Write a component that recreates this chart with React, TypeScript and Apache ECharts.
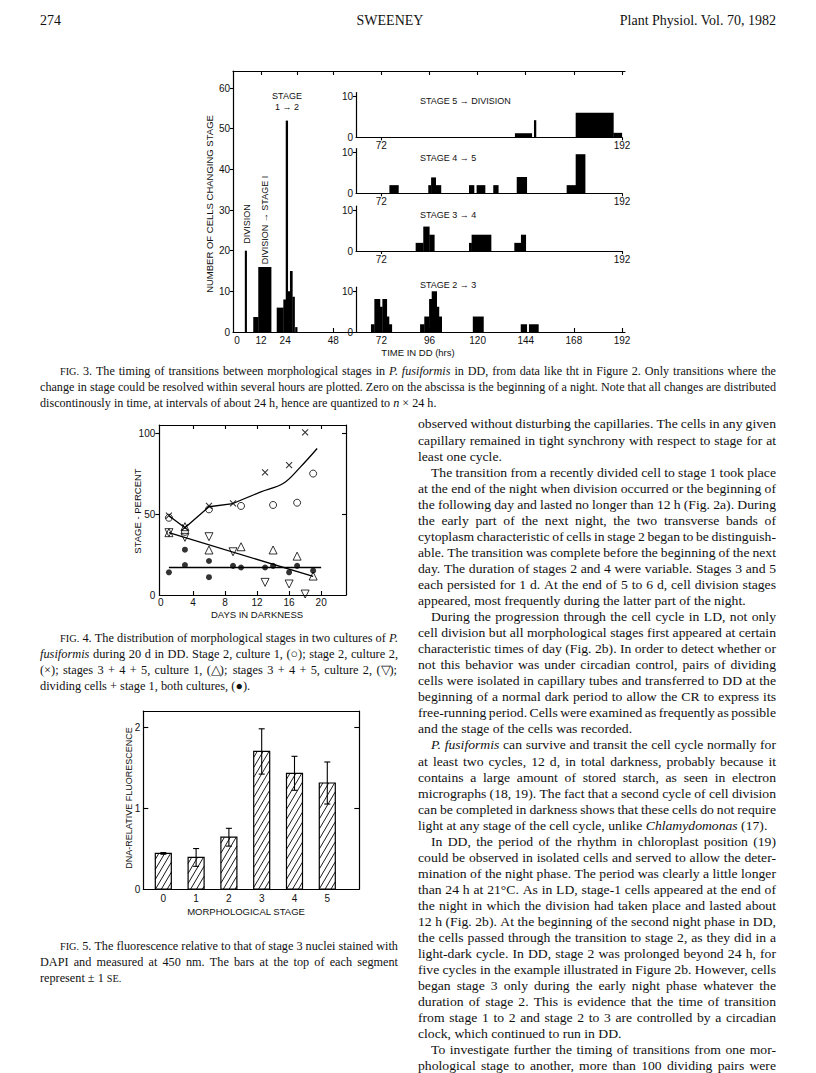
import React, { useEffect, useRef } from 'react';
import * as echarts from 'echarts';

// ---------------- Figure 3 data: [startHour, endHour, cells] ----------------
const divisionBars = [[3.9, 4.8, 20]];
const divToStage1Bars = [[8.1, 10.6, 3.7], [10.6, 17.0, 16]];
const stage1to2Bars = [[19.8, 23.1, 6], [23.1, 24.3, 8], [24.3, 25.3, 52], [25.3, 26.4, 10], [26.4, 27.6, 15], [27.6, 28.7, 8.7], [29.0, 30.0, 1.2]];
const stage5toDivBars = [[138.6, 147, 1], [148.1, 149.1, 4.2], [168.9, 187.7, 6], [187.7, 191.9, 1.1]];
const stage4to5Bars = [[76, 80.5, 2], [95.4, 96.8, 2], [96.8, 99.1, 3.9], [99.1, 101.7, 2], [115.7, 118.2, 2], [119.5, 123.7, 2], [127.8, 130.3, 2], [139.5, 144.5, 4], [164.4, 168.9, 2], [168.9, 173.6, 9.6]];
const stage3to4Bars = [[89.1, 92.9, 2], [92.9, 95.9, 6], [95.9, 98.4, 4], [115.7, 117, 2], [117, 126.7, 4], [138.3, 141.6, 2], [141.6, 144, 4]];
const stage2to3Bars = [[66.8, 68.5, 1.9], [68.5, 71.3, 8.1], [71.3, 72.5, 6.2], [72.5, 74.7, 8.1], [74.7, 75.8, 3.8], [75.8, 77.2, 1.9], [91.3, 93.4, 1.9], [93.4, 95.8, 3.8], [95.8, 97.1, 8.1], [97.1, 99.6, 10], [99.6, 100.7, 6.2], [100.7, 102.1, 3.8], [117.6, 122.9, 3.8], [141.5, 144.5, 1.9], [145.6, 150.3, 1.9]];
const fig3XLabels = [0, 12, 24, 48, 72, 96, 120, 144, 168, 192];
const fig3XTicks = [12, 24, 48, 72, 96, 120, 144, 168, 192];
const fig3TopTicks = [12, 30, 48, 72, 96, 120, 144, 168, 192];
const fig3YLabels = [0, 10, 20, 30, 40, 50, 60];
const insetXLabels = [72, 192];
const insetYLabels = [0, 10];

// ---------------- Figure 4 data: [day, percent] ----------------
const stage2Culture1 = [[1, 47.7], [3, 39], [6, 52.9], [10, 55], [14, 55.6], [17, 57], [19, 75]];
const stage2Culture2 = [[1, 49], [3, 41.8], [6, 55], [9, 56.6], [13, 75.7], [16, 80.2], [18, 100.4]];
const stages345Culture1 = [[1, 38.5], [3, 42.2], [6, 27.8], [10, 29.8], [14, 27.8], [17, 24], [19, 11.7]];
const stages345Culture2 = [[1, 38.5], [3, 35.6], [6, 36], [9, 26.7], [13, 7.8], [16, 6.8], [18, 0.6]];
const dividingStage1 = [[1, 14], [3, 28], [3, 18.5], [6, 21], [6, 11], [9, 18], [10, 17], [13, 17], [14, 18], [16, 14], [17, 18], [19, 15]];
const stage2TrendA = [[1, 49], [3, 41.5], [6, 54.5], [9, 56.5]];
const stage2TrendB = [[9, 56.5], [12.4, 63.5], [15.3, 69], [17.4, 79], [19.5, 90.5]];
const stages345Trend = [[1, 38.5], [19, 11.5]];
const dividingTrend = [[1, 17], [20, 17]];
const fig4XLabels = [0, 4, 8, 12, 16, 20];
const fig4XTicks = [4, 8, 12, 16, 20];
const fig4YLabels = [0, 50, 100];

// ---------------- Figure 5 data ----------------
const stageLabels = ['0', '1', '2', '3', '4', '5'];
const fluorescence = [0.44, 0.39, 0.64, 1.70, 1.43, 1.31];
const fluorescenceSE = [0.01, 0.11, 0.11, 0.28, 0.21, 0.26];
const fig5YLabels = [0, 1, 2];

// ---------------- Page text ----------------
const headerLeft = '274';
const headerCenter = 'SWEENEY';
const headerRight = 'Plant Physiol. Vol. 70, 1982';

const fig3Caption = [
  '>^FIG. 3. The timing of transitions between morphological stages in _P. _fusiformis in DD, from data like tht in Figure 2. Only transitions where the',
  'change in stage could be resolved within several hours are plotted. Zero on the abscissa is the beginning of a night. Note that all changes are distributed',
  'discontinously in time, at intervals of about 24 h, hence are quantized to _n × 24 h.|',
];
const fig4Caption = [
  '>^FIG. 4. The distribution of morphological stages in two cultures of _P.',
  '_fusiformis during 20 d in DD. Stage 2, culture 1, (○); stage 2, culture 2,',
  '(×); stages 3 + 4 + 5, culture 1, (△); stages 3 + 4 + 5, culture 2, (▽);',
  'dividing cells + stage 1, both cultures, (●).|',
];
const fig5Caption = [
  '>^FIG. 5. The fluorescence relative to that of stage 3 nuclei stained with',
  'DAPI and measured at 450 nm. The bars at the top of each segment',
  'represent ± 1 ^SE.|',
];
const bodyText = [
  'observed without disturbing the capillaries. The cells in any given',
  'capillary remained in tight synchrony with respect to stage for at',
  'least one cycle.|',
  '>The transition from a recently divided cell to stage 1 took place',
  'at the end of the night when division occurred or the beginning of',
  'the following day and lasted no longer than 12 h (Fig. 2a). During',
  'the early part of the next night, the two transverse bands of',
  'cytoplasm characteristic of cells in stage 2 began to be distinguish-',
  'able. The transition was complete before the beginning of the next',
  'day. The duration of stages 2 and 4 were variable. Stages 3 and 5',
  'each persisted for 1 d. At the end of 5 to 6 d, cell division stages',
  'appeared, most frequently during the latter part of the night.|',
  '>During the progression through the cell cycle in LD, not only',
  'cell division but all morphological stages first appeared at certain',
  'characteristic times of day (Fig. 2b). In order to detect whether or',
  'not this behavior was under circadian control, pairs of dividing',
  'cells were isolated in capillary tubes and transferred to DD at the',
  'beginning of a normal dark period to allow the CR to express its',
  'free-running period. Cells were examined as frequently as possible',
  'and the stage of the cells was recorded.|',
  '>_P. _fusiformis can survive and transit the cell cycle normally for',
  'at least two cycles, 12 d, in total darkness, probably because it',
  'contains a large amount of stored starch, as seen in electron',
  'micrographs (18, 19). The fact that a second cycle of cell division',
  'can be completed in darkness shows that these cells do not require',
  'light at any stage of the cell cycle, unlike _Chlamydomonas (17).|',
  '>In DD, the period of the rhythm in chloroplast position (19)',
  'could be observed in isolated cells and served to allow the deter-',
  'mination of the night phase. The period was clearly a little longer',
  'than 24 h at 21°C. As in LD, stage-1 cells appeared at the end of',
  'the night in which the division had taken place and lasted about',
  '12 h (Fig. 2b). At the beginning of the second night phase in DD,',
  'the cells passed through the transition to stage 2, as they did in a',
  'light-dark cycle. In DD, stage 2 was prolonged beyond 24 h, for',
  'five cycles in the example illustrated in Figure 2b. However, cells',
  'began stage 3 only during the early night phase whatever the',
  'duration of stage 2. This is evidence that the time of transition',
  'from stage 1 to 2 and stage 2 to 3 are controlled by a circadian',
  'clock, which continued to run in DD.|',
  '>To investigate further the timing of transitions from one mor-',
  'phological stage to another, more than 100 dividing pairs were',
];

const SANS = '"Liberation Sans", Arial, sans-serif';
const SERIF = '"Liberation Serif", "Times New Roman", serif';
const INK = '#111';

// ---------------- text layout helpers ----------------
let measureCtx: CanvasRenderingContext2D | null = null;
function measure(t: string, size: number, italic: boolean) {
  if (!measureCtx) measureCtx = document.createElement('canvas').getContext('2d');
  measureCtx!.font = `${italic ? 'italic ' : ''}${size}px ${SERIF}`;
  return measureCtx!.measureText(t).width;
}

type Block = { x: number; y: number; lh: number; width: number; size: number; indent: number; lines: string[] };

function layoutBlock(b: Block) {
  const parsed = b.lines.map((raw) => {
    let s = raw;
    const indent = s.startsWith('>');
    if (indent) s = s.slice(1);
    const last = s.endsWith('|');
    if (last) s = s.slice(0, -1);
    const toks = s.split(' ').filter(Boolean).map((w) => {
      let italic = false;
      let small = false;
      if (w.startsWith('_')) { italic = true; w = w.slice(1); }
      if (w.startsWith('^')) { small = true; w = w.slice(1); }
      return { t: w, italic, small };
    });
    const ws = toks.map((k) => measure(k.t, k.small ? b.size * 0.84 : b.size, k.italic));
    const sp = measure(' ', b.size, false);
    const avail = b.width - (indent ? b.indent : 0);
    const natural = ws.reduce((a, c) => a + c, 0) + sp * (toks.length - 1);
    return { indent, last, toks, ws, sp, avail, natural };
  });
  const ratios = parsed.filter((p) => !p.last).map((p) => p.avail / p.natural).sort((a, c) => a - c);
  let K = ratios.length ? ratios[Math.floor((ratios.length - 1) * 0.3)] : 1;
  K = Math.min(1.1, Math.max(0.7, K));
  const els: any[] = [];
  parsed.forEach((p, li) => {
    const sumW = p.ws.reduce((a, c) => a + c, 0);
    const n = p.toks.length;
    let scale = K;
    let gap = p.sp * K;
    if (!p.last && n > 1) {
      const g = (p.avail - K * sumW) / (n - 1);
      if (g >= p.sp * K * 0.7) gap = g;
      else { scale = p.avail / (sumW + (n - 1) * p.sp * 0.7); gap = p.sp * 0.7 * scale; }
    } else if (K * (sumW + (n - 1) * p.sp) > p.avail) {
      scale = p.avail / (sumW + (n - 1) * p.sp);
      gap = p.sp * scale;
    }
    let cx = b.x + (p.indent ? b.indent : 0);
    const y = b.y + li * b.lh;
    p.toks.forEach((k, i) => {
      els.push({
        type: 'text', x: cx, y, scaleX: scale, silent: true,
        style: {
          text: k.t, fontFamily: SERIF, fontSize: k.small ? b.size * 0.84 : b.size,
          fontStyle: k.italic ? 'italic' : 'normal', fill: INK, align: 'left', verticalAlign: 'middle',
        },
      });
      cx += p.ws[i] * scale + gap;
    });
  });
  return els;
}

function label(text: string, x: number, y: number, size: number, opts: any = {}) {
  return {
    type: 'text', x, y, rotation: opts.rotation || 0, silent: true,
    style: { text, fontFamily: opts.family || SANS, fontSize: size, fill: INK, align: opts.align || 'center', verticalAlign: 'middle' },
  };
}

// ---------------- series renderers ----------------
function barRender(_p: any, api: any) {
  const top = api.coord([api.value(0), api.value(2)]);
  const bot = api.coord([api.value(1), 0]);
  return {
    type: 'rect',
    shape: { x: top[0], y: top[1], width: Math.max(1, bot[0] - top[0] + 0.3), height: bot[1] - top[1] },
    style: { fill: '#000' },
  };
}

function fluorRender(_p: any, api: any) {
  const s = api.value(0);
  const m = api.value(1);
  const se = api.value(2);
  const top = api.coord([s, m]);
  const base = api.coord([s, 0]);
  const half = 8;
  const x0 = top[0] - half, x1 = top[0] + half, y0 = top[1], y1 = base[1];
  const children: any[] = [
    { type: 'rect', shape: { x: x0, y: y0, width: x1 - x0, height: y1 - y0 }, style: { fill: '#fff', stroke: '#000', lineWidth: 1.2 } },
  ];
  const k = 1.7;
  const step = 10;
  for (let c = k * x0 + y0 + step * 0.6; c < k * x1 + y1; c += step) {
    const xa = Math.max(x0, (c - y1) / k);
    const xb = Math.min(x1, (c - y0) / k);
    if (xb > xa + 0.5) {
      children.push({ type: 'line', shape: { x1: xa, y1: c - k * xa, x2: xb, y2: c - k * xb }, style: { stroke: '#000', lineWidth: 0.9 } });
    }
  }
  const eT = api.coord([s, m + se]);
  const eB = api.coord([s, m - se]);
  const cap = 3;
  children.push({ type: 'line', shape: { x1: eT[0], y1: eT[1], x2: eB[0], y2: eB[1] }, style: { stroke: '#000', lineWidth: 1.1 } });
  children.push({ type: 'line', shape: { x1: eT[0] - cap, y1: eT[1], x2: eT[0] + cap, y2: eT[1] }, style: { stroke: '#000', lineWidth: 1.1 } });
  children.push({ type: 'line', shape: { x1: eB[0] - cap, y1: eB[1], x2: eB[0] + cap, y2: eB[1] }, style: { stroke: '#000', lineWidth: 1.1 } });
  return { type: 'group', children };
}

const axisLine = { show: true, onZero: false, lineStyle: { color: '#000', width: 1.2 } };
const labelStyle = { color: INK, fontFamily: SANS, fontSize: 10 };

function valAxis(extra: any) {
  return {
    type: 'value', splitLine: { show: false }, ...extra,
    axisLine: { ...axisLine, ...(extra.axisLine || {}) },
    axisLabel: { ...labelStyle, ...(extra.axisLabel || {}) },
    axisTick: { lineStyle: { color: '#000', width: 1.1 }, ...(extra.axisTick || {}) },
  };
}

function buildOption() {
  const insetGrid = (top: number) => ({ left: 356, top, width: 266, height: 44.8 });
  const grids = [
    { left: 233, top: 71, width: 392, height: 261 }, // 0 fig3 main
    insetGrid(92.5), // 1
    insetGrid(148.5), // 2
    insetGrid(206.2), // 3
    insetGrid(287.2), // 4
    { left: 159.3, top: 425, width: 186.7, height: 170 }, // 5 fig4
    { left: 143.3, top: 711, width: 216, height: 178 }, // 6 fig5
  ].map((g) => ({ ...g, outerBoundsMode: 'none', containLabel: false }));

  const insetX = (gi: number, hidden = false) => valAxis({
    gridIndex: gi, min: 59.35, max: 192, position: 'bottom',
    axisLine: { show: !hidden },
    axisTick: { show: !hidden, length: 3, customValues: insetXLabels },
    axisLabel: { show: !hidden, margin: 3, customValues: insetXLabels },
  });
  const insetY = (gi: number) => valAxis({
    gridIndex: gi, min: 0, max: 11, position: 'left',
    axisTick: { show: true, length: 3, customValues: [10] },
    axisLabel: { margin: 3, customValues: insetYLabels },
  });

  const xAxis = [
    valAxis({ gridIndex: 0, min: -2, max: 193.5, position: 'bottom', axisTick: { show: true, inside: true, length: 4, customValues: fig3XTicks }, axisLabel: { margin: 3, customValues: fig3XLabels } }),
    valAxis({ gridIndex: 0, min: -2, max: 193.5, position: 'top', axisTick: { show: true, inside: true, length: 4, customValues: fig3TopTicks }, axisLabel: { show: false } }),
    insetX(1), insetX(2), insetX(3), insetX(4, true),
    valAxis({ gridIndex: 5, min: -0.2, max: 23.1, position: 'bottom', axisTick: { show: true, inside: true, length: 4, customValues: fig4XTicks }, axisLabel: { margin: 2, customValues: fig4XLabels } }),
    valAxis({ gridIndex: 5, min: -0.2, max: 23.1, position: 'top', axisTick: { show: true, inside: true, length: 4, customValues: fig4XTicks }, axisLabel: { show: false } }),
    valAxis({ gridIndex: 6, min: -0.61, max: 5.976, position: 'bottom', axisTick: { show: false }, axisLabel: { margin: 4, customValues: [0, 1, 2, 3, 4, 5], formatter: (v: number) => stageLabels[Math.round(v)] ?? '' } }),
    valAxis({ gridIndex: 6, min: -0.61, max: 5.976, position: 'top', axisTick: { show: false }, axisLabel: { show: false } }),
  ];
  const yAxis = [
    valAxis({ gridIndex: 0, min: 0, max: 64.2, position: 'left', axisTick: { show: true, length: 3, customValues: fig3YLabels.slice(1) }, axisLabel: { margin: 3, customValues: fig3YLabels } }),
    insetY(1), insetY(2), insetY(3), insetY(4),
    valAxis({ gridIndex: 5, min: 0, max: 105, position: 'left', axisTick: { show: true, length: 4, customValues: [50, 100] }, axisLabel: { margin: 4, customValues: fig4YLabels } }),
    valAxis({ gridIndex: 5, min: 0, max: 105, position: 'right', axisTick: { show: true, inside: true, length: 4, customValues: [50, 100] }, axisLabel: { show: false } }),
    valAxis({ gridIndex: 6, min: 0, max: 2.2, position: 'left', axisTick: { show: true, inside: true, length: 5, customValues: [1, 2] }, axisLabel: { margin: 3, customValues: fig5YLabels } }),
    valAxis({ gridIndex: 6, min: 0, max: 2.2, position: 'right', axisTick: { show: true, inside: true, length: 5, customValues: [1, 2] }, axisLabel: { show: false } }),
  ];

  const bars = (name: string, data: number[][], xi: number, yi: number) => ({
    type: 'custom', name, xAxisIndex: xi, yAxisIndex: yi, data, renderItem: barRender,
    encode: { x: [0, 1], y: 2 }, silent: true, clip: false,
  });
  const hollow = { color: 'transparent', borderColor: '#000', borderWidth: 1 };
  const scatter = (name: string, data: number[][], symbol: string, size: number, itemStyle: any, rotate = 0) => ({
    type: 'scatter', name, xAxisIndex: 6, yAxisIndex: 5, data, symbol, symbolSize: size, symbolRotate: rotate,
    itemStyle, silent: true, z: 4,
  });
  const line = (name: string, data: number[][], smooth: number | boolean = false) => ({
    type: 'line', name, xAxisIndex: 6, yAxisIndex: 5, data, smooth, symbol: 'none', showSymbol: false,
    lineStyle: { color: '#000', width: 1.3 }, silent: true, z: 3,
  });

  const series = [
    bars('Division', divisionBars, 0, 0),
    bars('Division → Stage 1', divToStage1Bars, 0, 0),
    bars('Stage 1 → 2', stage1to2Bars, 0, 0),
    bars('Stage 5 → Division', stage5toDivBars, 2, 1),
    bars('Stage 4 → 5', stage4to5Bars, 3, 2),
    bars('Stage 3 → 4', stage3to4Bars, 4, 3),
    bars('Stage 2 → 3', stage2to3Bars, 5, 4),
    line('Stage 2 trend (early)', stage2TrendA),
    line('Stage 2 trend (late)', stage2TrendB, 0.35),
    line('Stages 3+4+5 trend', stages345Trend),
    line('Dividing + stage 1 trend', dividingTrend),
    scatter('Stage 2, culture 1', stage2Culture1, 'circle', 7, hollow),
    scatter('Stage 2, culture 2', stage2Culture2, 'path://M0 0L10 10M10 0L0 10', 6, { color: 'none', borderColor: '#000', borderWidth: 1.1 }),
    scatter('Stages 3+4+5, culture 1', stages345Culture1, 'triangle', 8, hollow),
    scatter('Stages 3+4+5, culture 2', stages345Culture2, 'triangle', 8, hollow, 180),
    scatter('Dividing cells + stage 1', dividingStage1, 'circle', 6, { color: '#000' }),
    {
      type: 'custom', name: 'Relative fluorescence', xAxisIndex: 8, yAxisIndex: 7,
      data: fluorescence.map((v, i) => [i, v, fluorescenceSE[i]]),
      renderItem: fluorRender, encode: { x: 0, y: 1 }, silent: true, clip: false,
    },
  ];

  const graphic: any[] = [
    label(headerLeft, 40, 20, 14, { family: SERIF, align: 'left' }),
    label(headerCenter, 390, 20, 14, { family: SERIF }),
    label(headerRight, 776, 20, 14, { family: SERIF, align: 'right' }),
    // Figure 3 annotations
    label('STAGE', 287, 96, 9),
    label('1 → 2', 287, 107, 9),
    label('DIVISION', 246.5, 224, 9, { rotation: Math.PI / 2 }),
    label('DIVISION → STAGE I', 264.5, 220, 9, { rotation: Math.PI / 2 }),
    label('NUMBER OF CELLS CHANGING STAGE', 209, 204, 9.5, { rotation: Math.PI / 2 }),
    label('STAGE 5 → DIVISION', 420, 100.7, 9, { align: 'left' }),
    label('STAGE 4 → 5', 420, 158.3, 9, { align: 'left' }),
    label('STAGE 3 → 4', 420, 215.3, 9, { align: 'left' }),
    label('STAGE 2 → 3', 420, 285, 9, { align: 'left' }),
    label('TIME IN DD (hrs)', 418, 352, 9.5),
    // Figure 4 annotations
    label('STAGE - PERCENT', 137, 511, 9.5, { rotation: Math.PI / 2 }),
    label('DAYS IN DARKNESS', 257, 614, 9.5),
    // Figure 5 annotations
    label('DNA-RELATIVE FLUORESCENCE', 129, 798, 9, { rotation: Math.PI / 2 }),
    label('MORPHOLOGICAL STAGE', 246, 911, 9.5),
    ...layoutBlock({ x: 40, y: 371, lh: 16, width: 736, size: 12.5, indent: 20, lines: fig3Caption }),
    ...layoutBlock({ x: 40, y: 638, lh: 16, width: 358, size: 12.5, indent: 20, lines: fig4Caption }),
    ...layoutBlock({ x: 40, y: 946, lh: 16, width: 358, size: 12.5, indent: 20, lines: fig5Caption }),
    ...layoutBlock({ x: 418, y: 424, lh: 16.05, width: 358, size: 13.5, indent: 13, lines: bodyText }),
  ];

  return {
    animation: false,
    backgroundColor: '#fff',
    grid: grids,
    xAxis,
    yAxis,
    series,
    graphic: { elements: graphic },
  };
}

export default function App() {
  const ref = useRef<HTMLDivElement>(null);
  useEffect(() => {
    if (!ref.current) return;
    const chart = echarts.init(ref.current, null, { renderer: 'svg', width: 816, height: 1073 });
    chart.setOption(buildOption() as any);
    return () => chart.dispose();
  }, []);
  return (
    <div
      ref={ref}
      style={{ position: 'absolute', left: 0, top: 0, width: 816, height: 1073, background: '#fff' }}
    />
  );
}
